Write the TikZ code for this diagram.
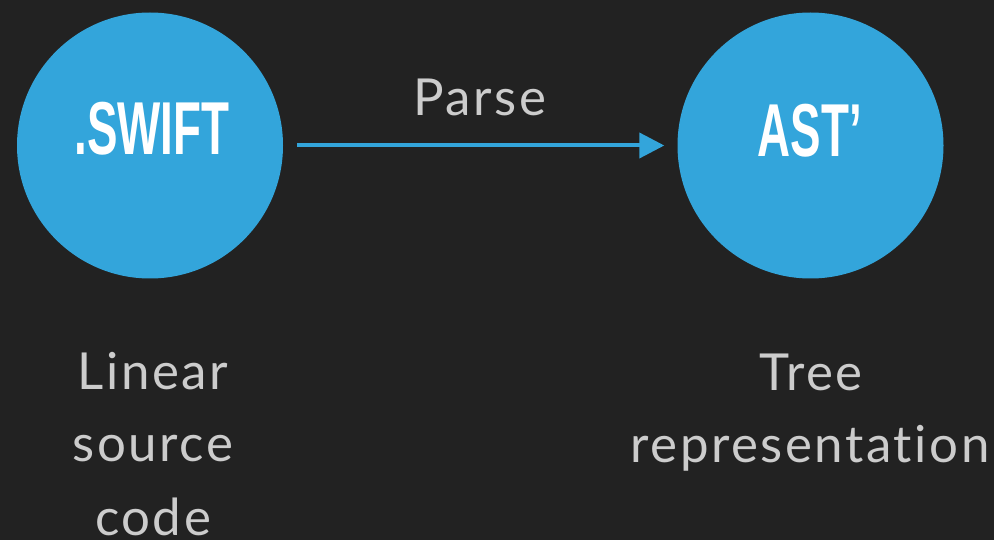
\documentclass[tikz,border=0pt]{standalone}
\usepackage{fontspec}
\setmainfont{Lato}[Ligatures=NoCommon, LetterSpace=5]
\newfontfamily\condfont{Liberation Sans}
\usetikzlibrary{arrows.meta}
\definecolor{bgc}{HTML}{222222}
\definecolor{bluec}{HTML}{33A5DB}
\definecolor{txtc}{HTML}{CCCCCC}
\tikzset{
  bubble/.style={circle, fill=bluec, minimum size=266pt, inner sep=0pt},
  bubbletext/.style={anchor=base, text=white, inner sep=0pt, font=\condfont\bfseries\fontsize{75}{75}\selectfont},
  caption/.style={anchor=base, text=txtc, inner sep=0pt, font=\fontsize{51}{60}\selectfont},
  flow/.style={draw=bluec, line width=4pt, -{Triangle[length=25pt,width=25pt]}}
}
\begin{document}
\begin{tikzpicture}[x=1pt,y=-1pt]
\fill[bgc] (0,0) rectangle (994,540);
\useasboundingbox (0,0) rectangle (994,540);
\node[bubble] (swift) at (150,145.5) {};
\node[bubble] (ast) at (810.5,145.5) {};
\node[bubbletext] (swiftlbl) at (152,155) {\scalebox{0.61}[1]{.SWIFT}};
\node[bubbletext] (astlbl) at (810,157) {\scalebox{0.61}[1]{AST’}};
\draw[flow, shorten <=14pt, shorten >=13pt] (swift) -- (ast);
\node[caption] (parse) at (480,116) {Parse};
\node[caption] (l1) at (153,389) {Linear};
\node[caption] (l2) at (153,461) {source};
\node[caption] (l3) at (153,535) {code};
\node[caption] (r1) at (811,390) {Tree};
\node[caption] (r2) at (810,462) {representation};
\end{tikzpicture}
\end{document}
